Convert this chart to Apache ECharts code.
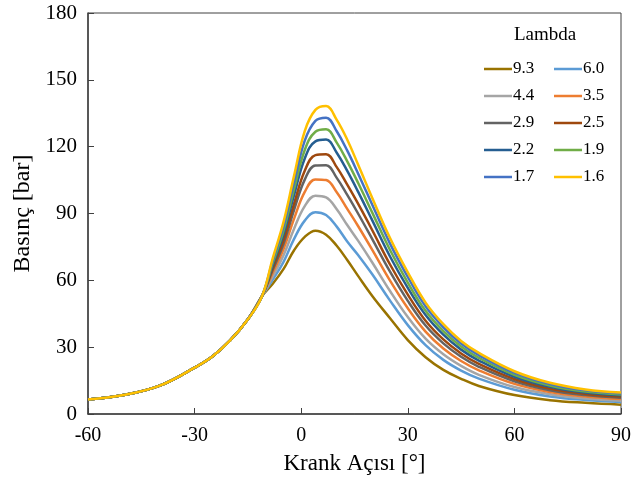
<!DOCTYPE html>
<html>
<head>
<meta charset="utf-8">
<script src="https://cdn.jsdelivr.net/npm/echarts@6/dist/echarts.min.js"></script>
<style>
  html, body { margin: 0; padding: 0; background: #fff; }
  #chart { width: 634px; height: 486px; }
</style>
</head>
<body>
<div id="chart"></div>
<script>
var angles = [-60, -50, -40, -30, -25, -20, -15, -11, -8, -5, -2, 1, 4, 7, 10, 13, 16, 20, 25, 30, 35, 40, 45, 50, 60, 70, 80, 90];

var lambdas = ['9.3', '6.0', '4.4', '3.5', '2.9', '2.5', '2.2', '1.9', '1.7', '1.6'];
var colors = ['#997300', '#5B9BD5', '#A5A5A5', '#ED7D31', '#636363', '#9E480E', '#255E91', '#70AD47', '#4472C4', '#FFC000'];

var p93 = [6.5, 8.5, 12.6, 20.8, 25.8, 33, 42.5, 53, 58.5, 65, 73.5, 79.5, 82.3, 80.5, 75.5, 69, 62, 53, 43, 33.2, 25.5, 19.8, 15.8, 12.6, 8.5, 6.2, 5.0, 4.2];
var p60 = [6.5, 8.5, 12.6, 20.8, 25.8, 33, 42.5, 53, 60.3, 68.2, 78.6, 86.8, 90.6, 89.3, 84.1, 77.3, 71.4, 62.7, 50.9, 39.9, 30.9, 24.3, 19.5, 15.9, 10.9, 7.9, 6.3, 5.4];
var p44 = [6.5, 8.5, 12.6, 20.8, 25.8, 33, 42.5, 53, 61.8, 71.1, 83.2, 93.3, 98.0, 97.2, 91.9, 84.7, 77.8, 68.0, 55.2, 43.5, 33.8, 26.8, 21.6, 17.6, 12.1, 8.9, 7.0, 6.0];
var p35 = [6.5, 8.5, 12.6, 20.8, 25.8, 33, 42.5, 53, 63.4, 73.9, 87.7, 99.7, 105.3, 105.0, 99.5, 92.0, 84.4, 73.7, 59.9, 47.5, 37.0, 29.4, 23.8, 19.6, 13.5, 9.9, 7.8, 6.7];
var p29 = [6.5, 8.5, 12.6, 20.8, 25.8, 33, 42.5, 53, 64.7, 76.3, 91.6, 105.2, 111.6, 111.7, 106.0, 98.2, 90.0, 78.5, 63.9, 50.8, 39.7, 31.7, 25.7, 21.2, 14.7, 10.7, 8.5, 7.3];
var p25 = [6.5, 8.5, 12.6, 20.8, 25.8, 33, 42.5, 53, 65.7, 78.1, 94.4, 109.2, 116.2, 116.6, 110.8, 102.8, 94.4, 82.5, 67.1, 53.6, 41.9, 33.5, 27.2, 22.5, 15.7, 11.4, 9.0, 7.8];
var p22 = [6.5, 8.5, 12.6, 20.8, 25.8, 33, 42.5, 53, 67.0, 80.5, 98.3, 114.7, 122.4, 123.2, 117.3, 109.0, 99.8, 86.9, 70.7, 56.6, 44.4, 35.6, 28.9, 24.0, 16.7, 12.2, 9.6, 8.4];
var p19 = [6.5, 8.5, 12.6, 20.8, 25.8, 33, 42.5, 53, 67.9, 82.2, 101.0, 118.5, 126.7, 127.8, 121.8, 113.3, 103.8, 90.4, 73.6, 59.0, 46.3, 37.2, 30.3, 25.2, 17.6, 12.8, 10.1, 8.8];
var p17 = [6.5, 8.5, 12.6, 20.8, 25.8, 33, 42.5, 53, 69.0, 84.1, 104.0, 122.7, 131.6, 133.0, 126.9, 118.1, 108.0, 93.9, 76.5, 61.5, 48.3, 38.9, 31.6, 26.4, 18.5, 13.5, 10.6, 9.2];
var p16 = [6.5, 8.5, 12.6, 20.8, 25.8, 33, 42.5, 53, 70.0, 86.0, 107.0, 127.0, 136.5, 138.2, 132.0, 123.0, 112.0, 97.0, 79.0, 63.6, 50.0, 40.3, 32.8, 27.4, 19.2, 14.0, 11.0, 9.6];

var pressures = [p93, p60, p44, p35, p29, p25, p22, p19, p17, p16];

var chart = echarts.init(document.getElementById('chart'));

var fontFamily = '"Liberation Serif", "DejaVu Serif", serif';

var series = lambdas.map(function (name, i) {
    return {
        name: name,
        type: 'line',
        smooth: 0.4,
        showSymbol: false,
        color: colors[i],
        lineStyle: { width: 2.5, color: colors[i] },
        data: angles.map(function (a, j) { return [a, pressures[i][j]]; })
    };
});

var option = {
    backgroundColor: '#fff',
    animation: false,
    title: {
        text: 'Lambda',
        left: 509,
        top: 21,
        textStyle: { fontFamily: fontFamily, fontSize: 19, fontWeight: 'normal', color: '#000' }
    },
    legend: {
        data: lambdas,
        left: 479,
        top: 55,
        width: 145,
        orient: 'horizontal',
        icon: 'rect',
        itemWidth: 28,
        itemHeight: 2.5,
        itemGap: 9,
        textStyle: { fontFamily: fontFamily, fontSize: 17, color: '#000', width: 32, lineHeight: 18, padding: [0, 0, 0, -4] }
    },
    grid: {
        left: 88,
        right: 12,
        top: 13,
        bottom: 72,
        show: true,
        borderColor: '#404040',
        borderWidth: 1
    },
    xAxis: {
        type: 'value',
        min: -60,
        max: 90,
        interval: 30,
        name: 'Krank Açısı [°]',
        nameLocation: 'middle',
        nameGap: 38,
        nameTextStyle: { fontFamily: fontFamily, fontSize: 23, color: '#000' },
        axisLine: { onZero: false, lineStyle: { color: '#404040', width: 1.5 } },
        axisTick: { inside: true, length: 6, lineStyle: { color: '#404040' } },
        axisLabel: { fontFamily: fontFamily, fontSize: 20, color: '#000', margin: 12 },
        splitLine: { show: false }
    },
    yAxis: {
        type: 'value',
        min: 0,
        max: 180,
        interval: 30,
        name: 'Basınç [bar]',
        nameLocation: 'middle',
        nameGap: 48,
        nameTextStyle: { fontFamily: fontFamily, fontSize: 24, color: '#000' },
        axisLine: { show: true, onZero: false, lineStyle: { color: '#404040', width: 1.5 } },
        axisTick: { show: true, inside: true, length: 6, lineStyle: { color: '#404040' } },
        axisLabel: { fontFamily: fontFamily, fontSize: 21, color: '#000', margin: 11 },
        splitLine: { show: false }
    },
    series: series
};

chart.setOption(option);
</script>
</body>
</html>
